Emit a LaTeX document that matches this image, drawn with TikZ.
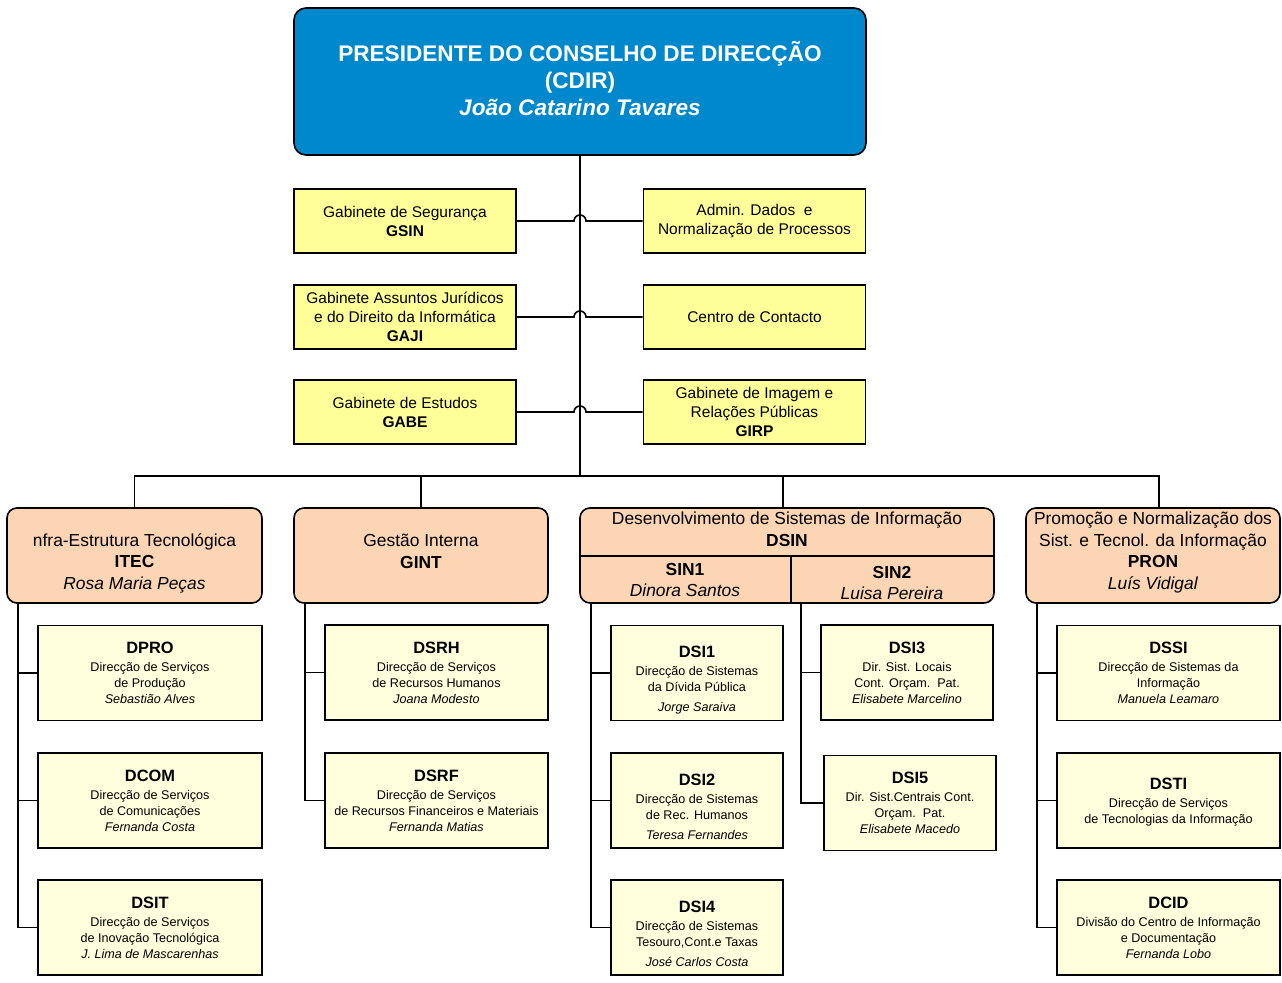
\documentclass[tikz,border=0pt]{standalone}
\usepackage{fontspec}
\setmainfont{Liberation Sans}
\definecolor{cdirblue}{RGB}{0,136,204}
\definecolor{gabyellow}{RGB}{255,255,153}
\definecolor{divpeach}{RGB}{252,213,180}
\definecolor{dircream}{RGB}{255,255,221}
\newcommand{\dirtitle}[1]{{\fontsize{8.2}{9}\selectfont\bfseries #1}\\[1pt]}
\newcommand{\lift}[1]{\rule{0pt}{#1}}
\begin{document}
\begin{tikzpicture}[x=0.5pt, y=-0.5pt, line width=0.8pt,
  every node/.style={align=center, inner sep=0pt},
  topbox/.style={draw, fill=cdirblue, rounded corners=6pt, minimum width=286pt, minimum height=73.5pt,
    text=white, font=\fontsize{11.3}{13.5}\selectfont\bfseries},
  gabbox/.style={draw, fill=gabyellow, minimum width=111pt, minimum height=32pt, font=\fontsize{7.75}{9.5}\selectfont},
  divbox/.style={draw, fill=divpeach, rounded corners=5pt, minimum width=127.5pt, minimum height=47.5pt,
    font=\fontsize{8.7}{10.8}\selectfont},
  subbox/.style={minimum height=23pt, font=\fontsize{8.7}{10.8}\selectfont},
  dirbox/.style={draw, fill=dircream, minimum width=112pt, minimum height=47.5pt, font=\fontsize{6.3}{8}\selectfont},
  sinbox/.style={dirbox, minimum width=86pt}]
\useasboundingbox (0,0) rectangle (1282,983);

% presidente
\node[topbox, text depth=3pt] (cdir) at (580,81.5) {PRESIDENTE DO CONSELHO DE DIRECÇÃO\\ (CDIR)\\ \textit{João Catarino Tavares}};

% gabinetes
\node[gabbox] (gsin) at (405,221) {Gabinete de Segurança\\ \textbf{GSIN}};
\node[gabbox] (gaji) at (405,317) {Gabinete Assuntos Jurídicos\\ e do Direito da Informática\\ \textbf{GAJI}};
\node[gabbox] (gabe) at (405,412) {Gabinete de Estudos\\ \textbf{GABE}};
\node[gabbox] (adnp) at (754.5,221) {Admin. Dados\ \ e\\ Normalização de Processos};
\node[gabbox] (ccon) at (754.5,317) {Centro de Contacto};
\node[gabbox] (girp) at (754.5,412) {Gabinete de Imagem e\\ Relações Públicas\\ \textbf{GIRP}};

\coordinate (bus) at (580,476);
\draw (cdir.south) -- (bus);
\draw (gsin.east) -- ([xshift=-3pt]cdir.south |- gsin.east) arc[start angle=180, end angle=0, radius=3pt] -- (adnp.west);
\draw (gaji.east) -- ([xshift=-3pt]cdir.south |- gaji.east) arc[start angle=180, end angle=0, radius=3pt] -- (ccon.west);
\draw (gabe.east) -- ([xshift=-3pt]cdir.south |- gabe.east) arc[start angle=180, end angle=0, radius=3pt] -- (girp.west);

% direccoes
\node[divbox, text depth=0pt] (itec) at (134.5,555.5) {\lift{12.3pt}nfra-Estrutura Tecnológica\\ \textbf{ITEC}\\ \textit{Rosa Maria Peças}};
\node[divbox, minimum width=127pt, text depth=4pt] (gint) at (421,555.5) {Gestão Interna\\ \textbf{GINT}};
\node[divbox, minimum width=207pt] (dsin) at (787,555.5) {};
\node[divbox, minimum width=127pt, text depth=4.8pt] (pron) at (1153,555.5) {Promoção e Normalização dos\\ Sist. e Tecnol. da Informação\\ \textbf{PRON}\\ \textit{Luís Vidigal}};
\node[font=\fontsize{8.7}{10.8}\selectfont] (dsinh) at (787,529) {Desenvolvimento de Sistemas de Informação\\ \textbf{DSIN}};
\node[subbox, minimum width=105pt] (sin1) at (685,580) {\textbf{SIN1}\\ \textit{Dinora Santos}};
\node[subbox, minimum width=102pt] (sin2) at (892,580) {\lift{9.2pt}\textbf{SIN2}\\ \textit{Luisa Pereira}};
\draw (dsin.west |- sin1.north) -- (dsin.east |- sin1.north);
\draw (sin1.north east) -- (sin1.south east);

\draw (itec.north) -- (itec.north |- bus) -- ([xshift=3pt]pron.north |- bus) -- ([xshift=3pt]pron.north);
\draw (gint.north) -- (gint.north |- bus);
\draw ([xshift=-2pt]dsin.north) -- ([xshift=-2pt]dsin.north |- bus);

% ITEC
\node[dirbox] (dpro) at (150,673) {\dirtitle{DPRO} Direcção de Serviços\\ de Produção\\ \textit{Sebastião Alves}};
\node[dirbox] (dcom) at (150,800.5) {\dirtitle{DCOM} Direcção de Serviços\\ de Comunicações\\ \textit{Fernanda Costa}};
\node[dirbox] (dsit) at (150,927.5) {\dirtitle{DSIT} Direcção de Serviços\\ de Inovação Tecnológica\\ \textit{J. Lima de Mascarenhas}};
\coordinate (itecs) at ([xshift=6pt]itec.south west);
\draw (itecs) |- (dsit.west);
\draw (dpro.west) -- (dpro.west -| itecs);
\draw (dcom.west) -- (dcom.west -| itecs);

% GINT
\node[dirbox, minimum width=111.5pt] (dsrh) at (436.5,672.5) {\dirtitle{DSRH} Direcção de Serviços\\ de Recursos Humanos\\ \textit{Joana Modesto}};
\node[dirbox, minimum width=111.5pt] (dsrf) at (436.5,800.5) {\dirtitle{DSRF} Direcção de Serviços\\ de Recursos Financeiros e Materiais\\ \textit{Fernanda Matias}};
\coordinate (gints) at ([xshift=6pt]gint.south west);
\draw (gints) |- (dsrf.west);
\draw (dsrh.west) -- (dsrh.west -| gints);

% DSIN
\node[sinbox, text depth=0pt] (dsi1) at (697,673) {\lift{11.9pt}\dirtitle{DSI1} Direcção de Sistemas\\ da Dívida Pública\\[2pt] \textit{Jorge Saraiva}};
\node[sinbox, text depth=0pt] (dsi2) at (697,800.5) {\lift{11.9pt}\dirtitle{DSI2} Direcção de Sistemas\\ de Rec. Humanos\\[2pt] \textit{Teresa Fernandes}};
\node[sinbox, text depth=0pt] (dsi4) at (697,927.5) {\lift{11.9pt}\dirtitle{DSI4} Direcção de Sistemas\\ Tesouro,Cont.e Taxas\\[2pt] \textit{José Carlos Costa}};
\node[sinbox] (dsi3) at (907,672.5) {\dirtitle{DSI3} Dir. Sist. Locais\\ Cont. Orçam.\ \ Pat.\\ \textit{Elisabete Marcelino}};
\node[sinbox] (dsi5) at (910,803) {\dirtitle{DSI5} Dir. Sist.Centrais Cont.\\ Orçam.\ \ Pat.\\ \textit{Elisabete Macedo}};
\coordinate (sin1s) at ([xshift=6pt]sin1.south west);
\coordinate (sin2s) at ([xshift=6pt]sin2.south west);
\draw (sin1s) |- (dsi4.west);
\draw (dsi1.west) -- (dsi1.west -| sin1s);
\draw (dsi2.west) -- (dsi2.west -| sin1s);
\draw (sin2s) |- (dsi5.west);
\draw (dsi3.west) -- (dsi3.west -| sin2s);

% PRON
\node[dirbox, minimum width=111.5pt] (dssi) at (1168.5,673) {\dirtitle{DSSI} Direcção de Sistemas da\\ Informação\\ \textit{Manuela Leamaro}};
\node[dirbox, minimum width=111.5pt, text depth=0pt] (dsti) at (1168.5,800.5) {\dirtitle{DSTI} Direcção de Serviços\\ de Tecnologias da Informação};
\node[dirbox, minimum width=111.5pt] (dcid) at (1168.5,927.5) {\dirtitle{DCID} Divisão do Centro de Informação\\ e Documentação\\ \textit{Fernanda Lobo}};
\coordinate (prons) at ([xshift=6pt]pron.south west);
\draw (prons) |- (dcid.west);
\draw (dssi.west) -- (dssi.west -| prons);
\draw (dsti.west) -- (dsti.west -| prons);
\end{tikzpicture}
\end{document}
